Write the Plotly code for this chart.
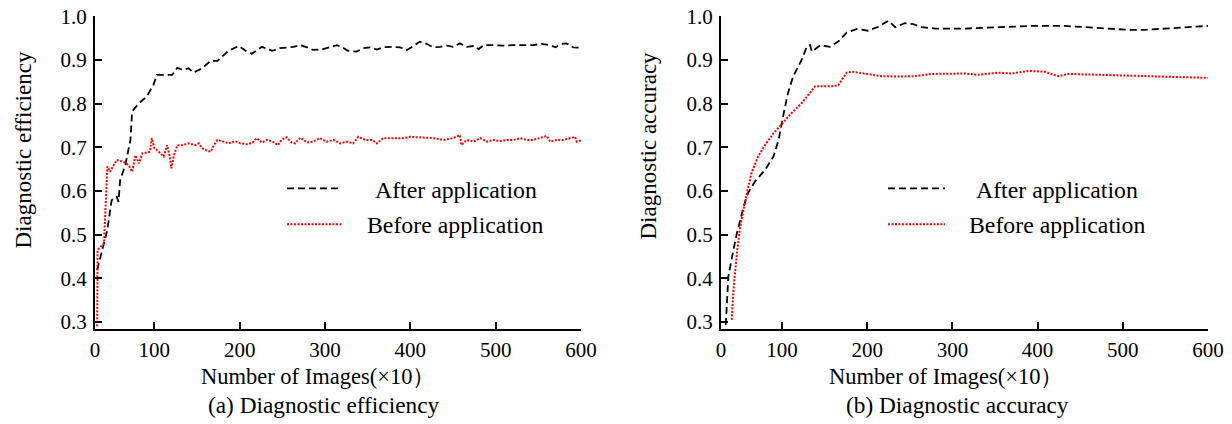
import plotly.graph_objects as go

# ---- data -------------------------------------------------------------
# (a) diagnostic efficiency
eff_after_x = [33, 41, 45, 50, 56, 58, 60, 66, 72, 74, 82, 91, 99, 103, 121, 127,
               134, 140, 146, 156, 166, 174, 187, 199, 207, 214, 226, 238, 247, 263,
               271, 279, 286, 296, 304, 314, 322, 327, 337, 345, 353, 361, 368, 378,
               388, 396, 404, 411, 419, 427, 435, 443, 450, 458, 466, 474, 480, 486,
               497, 509, 521, 532, 544, 554, 564, 570, 577, 583, 591, 600]
eff_after_y = [0.419, 0.484, 0.511, 0.579, 0.587, 0.575, 0.625, 0.659, 0.717, 0.782,
               0.801, 0.816, 0.843, 0.866, 0.866, 0.882, 0.877, 0.881, 0.871, 0.881,
               0.898, 0.898, 0.921, 0.932, 0.921, 0.914, 0.930, 0.921, 0.927, 0.930,
               0.934, 0.929, 0.923, 0.924, 0.929, 0.934, 0.927, 0.921, 0.919, 0.927,
               0.929, 0.924, 0.929, 0.930, 0.929, 0.923, 0.932, 0.942, 0.937, 0.929,
               0.930, 0.933, 0.930, 0.938, 0.930, 0.932, 0.925, 0.934, 0.934, 0.933,
               0.934, 0.934, 0.934, 0.937, 0.934, 0.929, 0.937, 0.938, 0.929, 0.928]

eff_before_x = [33, 33.5, 41, 45, 48, 52, 56, 64, 70, 74, 78, 82, 86, 91, 95, 97,
                100, 103, 107, 111, 115, 118, 120, 123, 127, 133, 140, 148, 152, 156,
                160, 166, 170, 174, 181, 187, 195, 201, 209, 215, 220, 226, 232, 238,
                245, 249, 255, 261, 265, 271, 279, 286, 294, 302, 310, 318, 326, 333,
                339, 347, 355, 361, 368, 380, 392, 400, 408, 415, 427, 439, 450, 458,
                460, 466, 474, 482, 490, 497, 505, 513, 521, 529, 536, 544, 552, 560,
                564, 572, 579, 587, 593, 595, 600]
eff_before_y = [0.290, 0.465, 0.480, 0.656, 0.644, 0.656, 0.671, 0.667, 0.659, 0.644,
                0.682, 0.663, 0.686, 0.688, 0.690, 0.721, 0.698, 0.694, 0.686, 0.679,
                0.705, 0.679, 0.652, 0.682, 0.705, 0.705, 0.709, 0.705, 0.709, 0.698,
                0.694, 0.690, 0.705, 0.717, 0.713, 0.709, 0.714, 0.709, 0.707, 0.711,
                0.721, 0.711, 0.717, 0.714, 0.705, 0.717, 0.723, 0.711, 0.709, 0.722,
                0.711, 0.713, 0.721, 0.713, 0.717, 0.709, 0.713, 0.709, 0.724, 0.717,
                0.717, 0.709, 0.721, 0.721, 0.721, 0.724, 0.723, 0.721, 0.721, 0.717,
                0.721, 0.728, 0.705, 0.717, 0.713, 0.721, 0.713, 0.717, 0.714, 0.717,
                0.717, 0.721, 0.717, 0.717, 0.721, 0.726, 0.713, 0.717, 0.717, 0.721,
                0.724, 0.713, 0.716]

# (b) diagnostic accuracy
acc_after_x = [34, 37, 43, 47, 55, 60, 68, 80, 90, 96, 102, 107, 113, 123, 129, 133,
               135, 145, 156, 166, 176, 188, 201, 213, 225, 233, 244, 254, 264, 280,
               315, 354, 393, 432, 452, 483, 506, 526, 550, 577, 600]
acc_after_y = [0.293, 0.404, 0.465, 0.503, 0.564, 0.595, 0.621, 0.648, 0.679, 0.717,
               0.778, 0.824, 0.862, 0.900, 0.930, 0.934, 0.919, 0.934, 0.930, 0.942,
               0.963, 0.971, 0.967, 0.976, 0.990, 0.975, 0.984, 0.982, 0.975, 0.972,
               0.972, 0.975, 0.978, 0.978, 0.976, 0.972, 0.969, 0.969, 0.972, 0.975,
               0.978]

acc_before_x = [41, 43, 47, 51, 57, 64, 72, 80, 90, 100, 111, 123, 131, 139, 158, 166,
                170, 176, 182, 197, 217, 237, 256, 276, 295, 315, 330, 354, 370, 389,
                409, 417, 424, 436, 471, 510, 550, 600]
acc_before_y = [0.305, 0.373, 0.457, 0.518, 0.579, 0.640, 0.679, 0.705, 0.732, 0.755,
                0.778, 0.801, 0.820, 0.840, 0.840, 0.842, 0.854, 0.871, 0.873, 0.868,
                0.863, 0.862, 0.863, 0.868, 0.869, 0.869, 0.866, 0.871, 0.869, 0.875,
                0.873, 0.868, 0.863, 0.868, 0.866, 0.863, 0.862, 0.859]

x_tick_vals = [100, 200, 300, 400, 500, 600]
x_tick_text = ["100", "200", "300", "400", "500", "600"]
y_tick_vals = [0.3, 0.4, 0.5, 0.6, 0.7, 0.8, 0.9, 1.0]
y_tick_text = ["0.3", "0.4", "0.5", "0.6", "0.7", "0.8", "0.9", "1.0"]

# ---- styling ------------------------------------------------------------
W, H = 1232, 424
FONT = "Liberation Serif"
BLACK_DASH = dict(color="black", width=1.8, dash="7px,4px")
RED_DOT = dict(color="#ff0000", width=2, dash="2px,1.5px")


def px_x(p):
    return p / W


def px_y(p):
    return 1 - p / H


fig = go.Figure()
fig.add_trace(go.Scatter(x=eff_after_x, y=eff_after_y, mode="lines", line=BLACK_DASH,
                         name="After application", xaxis="x", yaxis="y"))
fig.add_trace(go.Scatter(x=eff_before_x, y=eff_before_y, mode="lines", line=RED_DOT,
                         name="Before application", xaxis="x", yaxis="y"))
fig.add_trace(go.Scatter(x=acc_after_x, y=acc_after_y, mode="lines", line=BLACK_DASH,
                         name="After application", xaxis="x2", yaxis="y2"))
fig.add_trace(go.Scatter(x=acc_before_x, y=acc_before_y, mode="lines", line=RED_DOT,
                         name="Before application", xaxis="x2", yaxis="y2"))


def xaxis(domain, start, anchor):
    return dict(domain=domain, range=[start, 600], anchor=anchor, automargin=False,
                tickvals=[start] + x_tick_vals, ticktext=["0"] + x_tick_text,
                ticks="inside", ticklen=7, tickwidth=2, tickcolor="black",
                showline=True, linewidth=2, linecolor="black",
                showgrid=False, zeroline=False,
                tickfont=dict(family=FONT, size=21, color="black"))


def yaxis(domain, anchor):
    return dict(domain=domain, range=[0.2833, 1.0], anchor=anchor, automargin=False,
                tickvals=y_tick_vals, ticktext=y_tick_text,
                ticks="inside", ticklen=7, tickwidth=2, tickcolor="black",
                showline=True, linewidth=2, linecolor="black",
                showgrid=False, zeroline=False, ticklabelstandoff=2,
                tickfont=dict(family=FONT, size=21, color="black"))


ydom = [px_y(329.3), px_y(16.3)]
fig.update_layout(
    width=W, height=H,
    margin=dict(l=0, r=0, t=0, b=0, autoexpand=False),
    paper_bgcolor="white", plot_bgcolor="white",
    showlegend=False,
    font=dict(family=FONT, color="black"),
    xaxis=xaxis([px_x(95), px_x(581)], 30.5, "y"),
    yaxis=yaxis(ydom, "x"),
    xaxis2=xaxis([px_x(721), px_x(1208)], 28.4, "y2"),
    yaxis2=yaxis(ydom, "x2"),
)

# axis titles, panel captions and legend text
texts = [
    ("Diagnostic efficiency", 22.5, 150, -90, 23),
    ("Diagnostic accuracy", 647.5, 145, -90, 23),
    ("Number of Images(×10）", 318, 376, 0, 22.5),
    ("Number of Images(×10）", 945.5, 376, 0, 22.5),
    ("(a) Diagnostic efficiency", 323, 405, 0, 23.3),
    ("(b) Diagnostic accuracy", 957, 405, 0, 23.3),
    ("After application", 456, 190, 0, 23.8),
    ("Before application", 455, 225, 0, 23.8),
    ("After application", 1057, 190, 0, 23.8),
    ("Before application", 1057, 225, 0, 23.8),
]
for txt, cx, cy, ang, size in texts:
    fig.add_annotation(text=txt, x=px_x(cx), y=px_y(cy), xref="paper", yref="paper",
                       xanchor="center", yanchor="middle", textangle=ang,
                       showarrow=False, font=dict(family=FONT, size=size, color="black"))

# legend line samples
samples = [
    (287, 342, 188.3, BLACK_DASH),
    (287, 342, 224.3, RED_DOT),
    (888, 945, 188.3, BLACK_DASH),
    (888, 945, 224.3, RED_DOT),
]
for x0, x1, yy, ln in samples:
    fig.add_shape(type="line", xref="paper", yref="paper",
                  x0=px_x(x0), x1=px_x(x1), y0=px_y(yy), y1=px_y(yy), line=ln)

fig.write_html("out.html")
